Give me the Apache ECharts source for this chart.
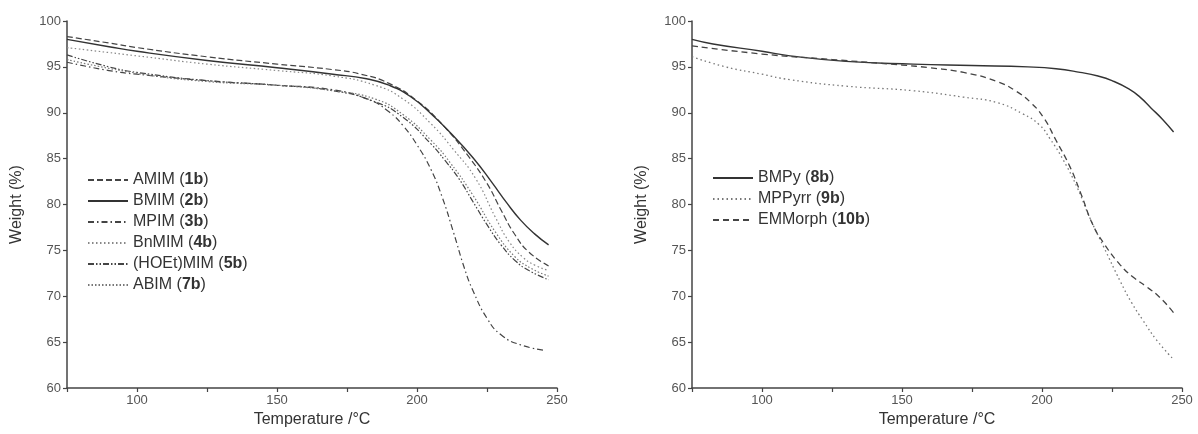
<!DOCTYPE html>
<html>
<head>
<meta charset="utf-8">
<script src="https://cdn.jsdelivr.net/npm/echarts@6/dist/echarts.min.js"></script>
<style>html,body{margin:0;padding:0;background:#fff}#c{width:1198px;height:434px}</style>
</head>
<body>
<div id="c"></div>
<script>
// ---- Data (Temperature °C, Weight %) ----
const xTicks = [100, 150, 200, 250];
const yTicks = [60, 65, 70, 75, 80, 85, 90, 95, 100];

const leftNames = ['AMIM (1b)', 'BMIM (2b)', 'MPIM (3b)', 'BnMIM (4b)', '(HOEt)MIM (5b)', 'ABIM (7b)'];
const rightNames = ['BMPy (8b)', 'MPPyrr (9b)', 'EMMorph (10b)'];

const amim = [[75,98.3],[90,97.6],[100,97.1],[125,96.1],[150,95.3],[170,94.7],[180,94.2],[190,93.2],[200,91.3],[210,88.4],[218,85.4],[225,82.3],[230,79.4],[235,76.7],[240,74.8],[247,73.3]];
const bmim = [[75,98.0],[90,97.2],[100,96.7],[125,95.7],[150,94.9],[170,94.2],[182,93.7],[190,93.0],[197.5,91.8],[205,89.9],[212,87.8],[220,85.1],[227,82.3],[232,80.2],[237,78.3],[242,76.8],[247,75.6]];
const mpim = [[75,95.5],[90,94.6],[100,94.2],[125,93.5],[150,93.0],[170,92.5],[183,91.4],[190,90.1],[195,88.6],[200,86.5],[205,83.8],[209,80.8],[213,77.0],[217,73.0],[220,70.6],[225,67.6],[230,65.8],[237,64.7],[246,64.1]];
const bnmim = [[75,97.1],[100,96.2],[125,95.3],[150,94.6],[170,94.0],[185,93.0],[195,91.5],[205,88.8],[213,86.0],[221,82.8],[228,78.6],[233,75.9],[238,74.2],[242,73.4],[247,72.8]];
const hoet = [[75,96.3],[90,95.0],[100,94.4],[125,93.5],[150,93.0],[170,92.4],[185,91.2],[195,89.5],[205,86.6],[210,84.8],[215,82.8],[220,80.3],[225,77.8],[230,75.6],[235,73.9],[240,72.8],[247,71.8]];
const abim = [[75,95.8],[100,94.3],[125,93.4],[150,93.0],[170,92.4],[185,91.5],[195,89.8],[205,87.0],[212,84.5],[220,81.0],[228,77.0],[235,74.3],[241,73.0],[247,72.2]];

const bmpy = [[75,98.0],[82.5,97.5],[100,96.7],[110,96.2],[130,95.6],[154,95.3],[175,95.15],[195,95.0],[205,94.8],[213.6,94.4],[220,94.0],[225,93.5],[231,92.6],[235,91.7],[239,90.5],[243,89.3],[247,87.9]];
const mppyrr = [[75,96.1],[87,95.0],[100,94.2],[110,93.6],[130,92.9],[154,92.4],[172,91.7],[184,91.1],[193,89.9],[199,88.7],[203,87.1],[207.5,84.9],[212.5,81.9],[217,78.6],[222,75.4],[228,71.6],[232,69.3],[236,67.4],[241,65.2],[247,63.1]];
const emmorph = [[75,97.3],[100,96.4],[125,95.8],[150,95.2],[160,94.9],[172,94.4],[184,93.4],[191,92.3],[196,91.1],[200.5,89.5],[205,87.0],[210,84.1],[214,81.1],[218,77.9],[222,75.8],[228,73.4],[232.5,72.1],[237.5,71.0],[242,69.9],[247,68.2]];

// ---- Chart ----
const FONT = 'Liberation Sans, Arial, sans-serif';
const chart = echarts.init(document.getElementById('c'));

function xAxis(gridIndex) {
  return {
    type: 'value', gridIndex, min: 75, max: 250, interval: 25,
    name: 'Temperature /°C', nameLocation: 'middle', nameGap: 23,
    nameTextStyle: { fontFamily: FONT, fontSize: 16, color: '#333' },
    axisLine: { show: true, onZero: false, lineStyle: { color: '#444', width: 1.5 } },
    axisTick: { show: true, inside: false, length: 4, lineStyle: { color: '#444', width: 1.2 } },
    axisLabel: { fontFamily: FONT, fontSize: 13, color: '#555', margin: 6,
      formatter: v => (xTicks.indexOf(v) >= 0 ? String(v) : '') },
    splitLine: { show: false }
  };
}
function yAxis(gridIndex) {
  return {
    type: 'value', gridIndex, min: 60, max: 100, interval: 5,
    name: 'Weight (%)', nameLocation: 'middle', nameGap: 42, nameRotate: 90,
    nameTextStyle: { fontFamily: FONT, fontSize: 16, color: '#333' },
    axisLine: { show: true, lineStyle: { color: '#444', width: 1.5 } },
    axisTick: { show: true, inside: false, length: 4, lineStyle: { color: '#444', width: 1.2 } },
    axisLabel: { fontFamily: FONT, fontSize: 13, color: '#555', margin: 6,
      formatter: v => (yTicks.indexOf(v) >= 0 ? String(v) : '') },
    splitLine: { show: false }
  };
}
function line(name, data, idx, color, type, width) {
  return {
    name, type: 'line', data, xAxisIndex: idx, yAxisIndex: idx,
    showSymbol: false, symbol: 'none', smooth: true,
    lineStyle: { color, type, width: width || 1.2 },
    itemStyle: { color },
    emphasis: { disabled: true }, animation: false
  };
}
const legendFmt = n => {
  const m = n.match(/^(.*)\((\w+)\)$/);
  return m ? m[1] + '({b|' + m[2] + '})' : n;
};
const legendText = {
  fontFamily: FONT, fontSize: 16, color: '#333',
  rich: { b: { fontFamily: FONT, fontSize: 16, fontWeight: 'bold', color: '#333' } }
};

const styles = {
  [leftNames[0]]: ['#444', [6, 3]],
  [leftNames[1]]: ['#333', 'solid'],
  [leftNames[2]]: ['#444', [6, 3, 1.5, 3]],
  [leftNames[3]]: ['#888', [1.5, 2.5]],
  [leftNames[4]]: ['#444', [6, 2, 1.5, 2, 1.5, 2]],
  [leftNames[5]]: ['#777', [1.5, 2]],
  [rightNames[0]]: ['#333', 'solid'],
  [rightNames[1]]: ['#777', [1.5, 3]],
  [rightNames[2]]: ['#444', [6, 4]]
};
const leftData = [amim, bmim, mpim, bnmim, hoet, abim];
const rightData = [bmpy, mppyrr, emmorph];

const series = [];
leftNames.forEach((n, i) => series.push(line(n, leftData[i], 0, styles[n][0], styles[n][1], i === 1 ? 1.4 : 1.2)));
rightNames.forEach((n, i) => series.push(line(n, rightData[i], 1, styles[n][0], styles[n][1], i === 0 ? 1.4 : 1.3)));

chart.setOption({
  animation: false,
  backgroundColor: '#fff',
  grid: [
    { left: 67, top: 21, width: 490, height: 367 },
    { left: 692, top: 21, width: 490, height: 367 }
  ],
  xAxis: [xAxis(0), xAxis(1)],
  yAxis: [yAxis(0), yAxis(1)],
  legend: [
    { data: leftNames, orient: 'vertical', left: 82, top: 167, itemWidth: 40, itemHeight: 16, itemGap: 5,
      itemStyle: { opacity: 0 }, formatter: legendFmt, textStyle: legendText, selectedMode: false },
    { data: rightNames, orient: 'vertical', left: 707, top: 165, itemWidth: 40, itemHeight: 16, itemGap: 5,
      itemStyle: { opacity: 0 }, formatter: legendFmt, textStyle: legendText, selectedMode: false }
  ],
  series
});
</script>
</body>
</html>
